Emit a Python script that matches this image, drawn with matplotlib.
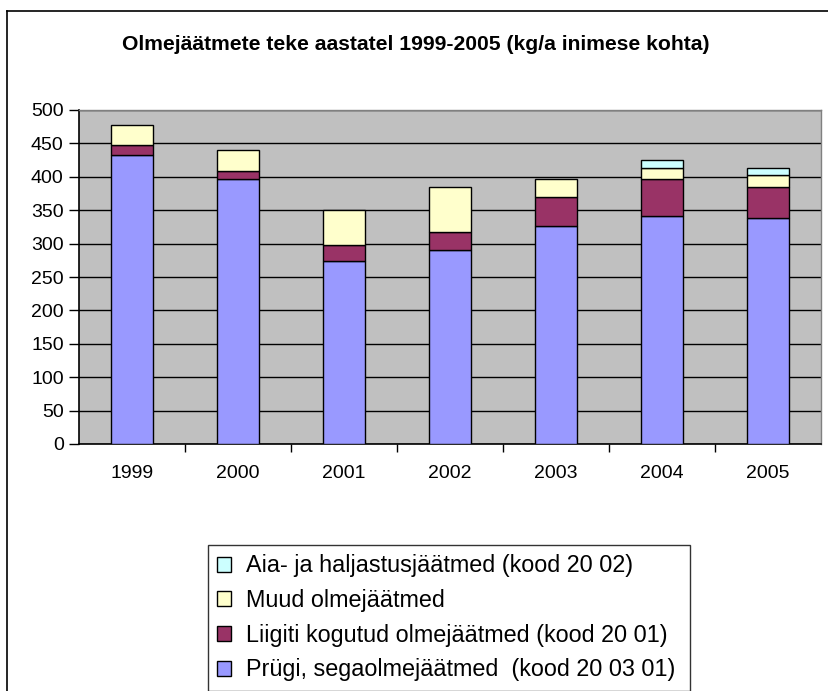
import matplotlib
matplotlib.use("Agg")
import matplotlib.pyplot as plt
from matplotlib.patches import Patch
from matplotlib.lines import Line2D
import numpy as np

years = ["1999", "2000", "2001", "2002", "2003", "2004", "2005"]
prugi = [432, 396, 274, 291, 327, 341, 339]
liigiti = [15, 13, 24, 26, 43, 55, 45]
muud = [31, 31, 53, 68, 26, 17, 19]
aia = [0, 0, 0, 0, 0, 12, 10]

labels = ["Prügi, segaolmejäätmed  (kood 20 03 01)",
          "Liigiti kogutud olmejäätmed (kood 20 01)",
          "Muud olmejäätmed",
          "Aia- ja haljastusjäätmed (kood 20 02)"]
colors = ["#9999FF", "#993366", "#FFFFCC", "#CCFFFF"]

plt.rcParams["font.family"] = ["Liberation Sans", "DejaVu Sans"]

W, H = 829, 691
fig = plt.figure(figsize=(W / 100, H / 100), dpi=100)
fig.patch.set_facecolor("white")

# outer chart frame (top and left edges visible)
fig.add_artist(Line2D([7 / W, 828 / W], [1 - 11 / H, 1 - 11 / H], color="black", lw=1.2))
fig.add_artist(Line2D([7 / W, 7 / W], [0, 1 - 11 / H], color="black", lw=1.2))

ax = fig.add_axes([79 / W, 1 - 444 / H, (821 - 79) / W, (444 - 110) / H])
ax.set_facecolor("#C0C0C0")

x = np.arange(len(years))
series = [prugi, liigiti, muud, aia]
bottom = np.zeros(len(years))
for vals, col in zip(series, colors):
    v = np.array(vals, dtype=float)
    mask = v > 0
    ax.bar(x[mask], v[mask], bottom=bottom[mask], width=0.39, color=col,
           edgecolor="black", linewidth=1, zorder=3)
    bottom += v

ax.set_xlim(-0.5, len(years) - 0.5)
ax.set_ylim(0, 500)
ax.set_yticks(np.arange(0, 501, 50))
ax.yaxis.grid(True, color="black", linewidth=1, zorder=1)
ax.set_axisbelow(True)

ax.set_xticks(x)
ax.set_xticklabels(years, fontsize=14)
ax.tick_params(axis="x", length=0, pad=15)
ax.set_xticks(np.arange(0.5, len(years) - 0.5, 1), minor=True)
ax.tick_params(axis="x", which="minor", length=6, direction="out", width=1, color="black")
ax.tick_params(axis="y", length=7, width=1, labelsize=14, pad=4)

for s in ["left", "bottom"]:
    ax.spines[s].set_color("black")
    ax.spines[s].set_linewidth(1.2)
for s in ["top", "right"]:
    ax.spines[s].set_color("#808080")
    ax.spines[s].set_linewidth(1)

fig.text(416 / W, 1 - 45 / H, "Olmejäätmete teke aastatel 1999-2005 (kg/a inimese kohta)",
         ha="center", va="center", fontsize=15.2, fontweight="bold")

handles = [Patch(facecolor=c, edgecolor="black", linewidth=1) for c in colors]
leg = fig.legend(handles[::-1], labels[::-1], loc="upper left", mode="expand",
                 bbox_to_anchor=(208 / W, 1 - 545 / H, (690 - 208) / W, 0),
                 fontsize=16.8, frameon=True, fancybox=False, edgecolor="black",
                 handlelength=0.6, handleheight=0.6, handletextpad=0.65,
                 labelspacing=0.5, borderpad=0.4, borderaxespad=0)
leg.get_frame().set_linewidth(1)

fig.savefig("out.png", dpi=100)
